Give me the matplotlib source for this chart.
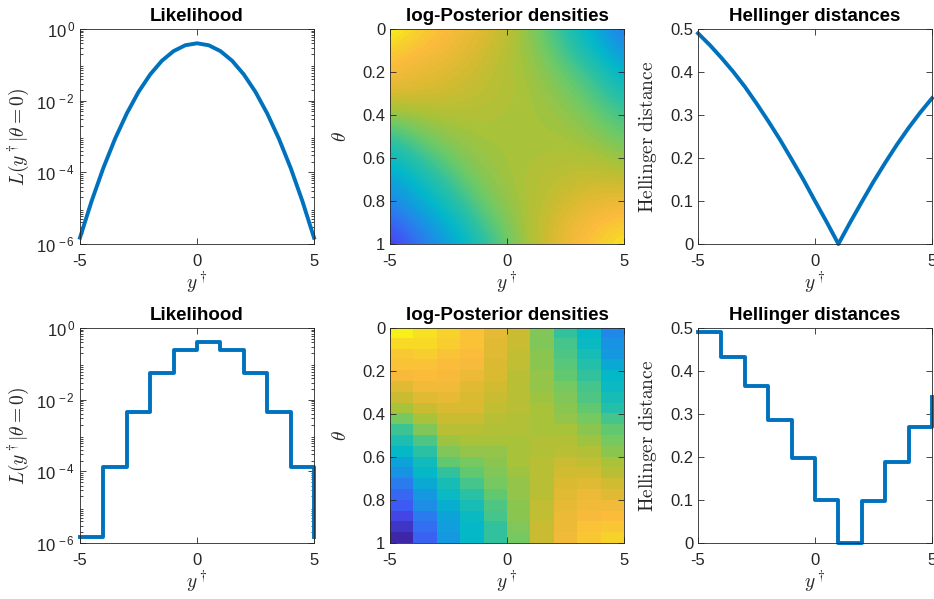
import numpy as np
import matplotlib
matplotlib.use("Agg")
import matplotlib.pyplot as plt
from matplotlib.colors import LinearSegmentedColormap
from matplotlib.ticker import LogLocator, NullFormatter

# continuous curves, read at y = -5, -4.5, ..., 5
y_fine = [-5, -4.5, -4, -3.5, -3, -2.5, -2, -1.5, -1, -0.5, 0,
          0.5, 1, 1.5, 2, 2.5, 3, 3.5, 4, 4.5, 5]
lik_fine = [1.5e-6, 1.6e-5, 1.34e-4, 8.7e-4, 4.4e-3, 1.75e-2, 5.4e-2, 0.13, 0.242, 0.352, 0.399,
            0.352, 0.242, 0.13, 5.4e-2, 1.75e-2, 4.4e-3, 8.7e-4, 1.34e-4, 1.6e-5, 1.5e-6]
hell_fine = [0.490, 0.463, 0.433, 0.401, 0.366, 0.327, 0.286, 0.243, 0.197, 0.150, 0.100,
             0.051, 0.0, 0.050, 0.098, 0.145, 0.189, 0.231, 0.270, 0.306, 0.339]

# binned (stairs) versions
y_bins = [-5, -4, -3, -2, -1, 0, 1, 2, 3, 4, 5]
lik_step = [1.5e-6, 1.34e-4, 4.4e-3, 5.4e-2, 0.242, 0.399, 0.242, 5.4e-2, 4.4e-3, 1.34e-4, 1.5e-6]
hell_step = [0.490, 0.433, 0.366, 0.286, 0.197, 0.100, 0.0, 0.098, 0.189, 0.270, 0.339]

# log-posterior (colour fraction), rows theta = 0, 0.1, ..., 1 ; cols y = -5..5
post_theta = [0, 0.1, 0.2, 0.3, 0.4, 0.5, 0.6, 0.7, 0.8, 0.9, 1.0]
post_y = [-5, -4, -3, -2, -1, 0, 1, 2, 3, 4, 5]
post_smooth = [
    [1.00, 0.93, 0.87, 0.82, 0.77, 0.71, 0.61, 0.51, 0.40, 0.30, 0.18],
    [0.90, 0.86, 0.83, 0.79, 0.74, 0.69, 0.63, 0.55, 0.45, 0.36, 0.26],
    [0.84, 0.80, 0.78, 0.75, 0.72, 0.68, 0.65, 0.59, 0.52, 0.44, 0.34],
    [0.76, 0.75, 0.74, 0.72, 0.70, 0.68, 0.66, 0.62, 0.57, 0.50, 0.42],
    [0.62, 0.65, 0.67, 0.68, 0.68, 0.67, 0.66, 0.65, 0.61, 0.56, 0.50],
    [0.48, 0.55, 0.61, 0.64, 0.66, 0.66, 0.66, 0.66, 0.65, 0.61, 0.56],
    [0.38, 0.45, 0.53, 0.60, 0.64, 0.66, 0.67, 0.68, 0.68, 0.67, 0.63],
    [0.30, 0.37, 0.45, 0.54, 0.61, 0.65, 0.68, 0.70, 0.72, 0.73, 0.71],
    [0.22, 0.30, 0.38, 0.47, 0.57, 0.63, 0.68, 0.72, 0.76, 0.79, 0.80],
    [0.13, 0.22, 0.31, 0.40, 0.51, 0.60, 0.68, 0.75, 0.81, 0.86, 0.88],
    [0.03, 0.14, 0.24, 0.34, 0.45, 0.56, 0.67, 0.76, 0.84, 0.90, 0.97],
]

# binned log-posterior, one list per y bin (-5..-4 first), 20 theta rows each
post_binned_cols = [
    [0.98, 0.93, 0.89, 0.86, 0.84, 0.78, 0.73, 0.66, 0.58, 0.49, 0.43, 0.37, 0.30, 0.25, 0.19, 0.15, 0.11, 0.07, 0.04, 0.01],
    [0.95, 0.93, 0.90, 0.87, 0.85, 0.82, 0.78, 0.72, 0.66, 0.60, 0.53, 0.46, 0.40, 0.37, 0.32, 0.28, 0.24, 0.20, 0.17, 0.14],
    [0.92, 0.90, 0.87, 0.85, 0.84, 0.82, 0.79, 0.76, 0.73, 0.69, 0.65, 0.60, 0.55, 0.48, 0.42, 0.38, 0.34, 0.31, 0.29, 0.27],
    [0.87, 0.86, 0.85, 0.84, 0.80, 0.78, 0.76, 0.75, 0.73, 0.70, 0.67, 0.63, 0.59, 0.55, 0.50, 0.46, 0.42, 0.39, 0.37, 0.36],
    [0.79, 0.78, 0.77, 0.76, 0.75, 0.74, 0.73, 0.71, 0.70, 0.68, 0.66, 0.64, 0.62, 0.60, 0.58, 0.56, 0.53, 0.50, 0.48, 0.47],
    [0.72, 0.72, 0.71, 0.71, 0.70, 0.70, 0.69, 0.69, 0.68, 0.68, 0.67, 0.67, 0.66, 0.65, 0.64, 0.63, 0.62, 0.61, 0.60, 0.58],
    [0.60, 0.60, 0.61, 0.62, 0.63, 0.64, 0.65, 0.66, 0.67, 0.67, 0.68, 0.68, 0.69, 0.69, 0.70, 0.70, 0.71, 0.71, 0.72, 0.72],
    [0.48, 0.50, 0.52, 0.54, 0.56, 0.58, 0.60, 0.62, 0.64, 0.66, 0.68, 0.70, 0.72, 0.74, 0.75, 0.77, 0.79, 0.80, 0.81, 0.82],
    [0.37, 0.39, 0.41, 0.44, 0.47, 0.50, 0.53, 0.56, 0.59, 0.62, 0.65, 0.68, 0.71, 0.74, 0.77, 0.80, 0.82, 0.84, 0.86, 0.88],
    [0.22, 0.25, 0.28, 0.32, 0.36, 0.38, 0.41, 0.45, 0.50, 0.55, 0.58, 0.62, 0.66, 0.70, 0.74, 0.78, 0.82, 0.85, 0.88, 0.92],
]

lik_ticks = [1e-6, 1e-4, 1e-2, 1]
lik_ticklabels = [r"$10^{\,-6}$", r"$10^{\,-4}$", r"$10^{\,-2}$", r"$10^{\,0}$"]
theta_ticks = [0, 0.2, 0.4, 0.6, 0.8, 1]
theta_ticklabels = ["0", "0.2", "0.4", "0.6", "0.8", "1"]
hell_ticks = [0, 0.1, 0.2, 0.3, 0.4, 0.5]
hell_ticklabels = ["0", "0.1", "0.2", "0.3", "0.4", "0.5"]
x_ticks = [-5, 0, 5]
x_ticklabels = ["-5", "0", "5"]

plt.rcParams["font.family"] = ["Liberation Sans", "DejaVu Sans"]
plt.rcParams["mathtext.fontset"] = "custom"
plt.rcParams["mathtext.rm"] = "Liberation Sans"
plt.rcParams["mathtext.it"] = "Liberation Sans:italic"

# parula-like colormap, 64 steps like matlab
parula_pts = [
    (0.00, (0.24, 0.15, 0.66)),
    (0.08, (0.27, 0.31, 0.96)),
    (0.18, (0.18, 0.47, 0.94)),
    (0.27, (0.08, 0.60, 0.88)),
    (0.36, (0.01, 0.72, 0.79)),
    (0.47, (0.18, 0.76, 0.63)),
    (0.57, (0.42, 0.79, 0.41)),
    (0.67, (0.67, 0.76, 0.22)),
    (0.76, (0.85, 0.73, 0.19)),
    (0.85, (0.99, 0.73, 0.24)),
    (0.93, (0.97, 0.84, 0.16)),
    (1.00, (0.976, 0.98, 0.08)),
]
parula = LinearSegmentedColormap.from_list("parula", parula_pts, N=64)

blue = (0, 0.447, 0.741)
grey = (0.15, 0.15, 0.15)

fig = plt.figure(figsize=(9.34, 5.99), dpi=100)
W, H = 934.0, 599.0
lefts = [80, 390, 698]
width = 234
tops = [29, 328]
height = 215


def make_ax(row, col):
    l = lefts[col] / W
    b = 1 - (tops[row] + height) / H
    ax = fig.add_axes([l, b, width / W, height / H])
    for s in ax.spines.values():
        s.set_color(grey)
        s.set_linewidth(0.6)
    ax.tick_params(which="both", direction="in", top=True, right=True,
                   colors=grey, labelsize=12, width=0.6)
    ax.tick_params(which="major", length=4)
    ax.tick_params(which="minor", length=2)
    ax.tick_params(axis="x", pad=7)
    ax.set_xlim(-5, 5)
    ax.set_xticks(x_ticks, x_ticklabels)
    ax.set_xlabel(r"$y^\dagger$", math_fontfamily="cm", fontsize=14, color=grey, labelpad=1)
    return ax


def likelihood_ax(ax, x, y, stairs):
    if stairs:
        ax.step(x, y, where="post", color=blue, lw=2.8, clip_on=False)
    else:
        ax.plot(x, y, color=blue, lw=2.8, clip_on=False)
    ax.set_yscale("log")
    ax.set_ylim(1e-6, 1)
    ax.set_yticks(lik_ticks, lik_ticklabels)
    ax.yaxis.set_minor_locator(LogLocator(base=10, subs=range(2, 10), numticks=20))
    ax.yaxis.set_minor_formatter(NullFormatter())
    ax.set_ylabel(r"$L(y^\dagger|\theta=0)$", math_fontfamily="cm", fontsize=14, color=grey, labelpad=3)
    ax.set_title("Likelihood", fontsize=13.5, fontweight="bold", pad=6)


def hellinger_ax(ax, x, y, stairs):
    if stairs:
        ax.step(x, y, where="post", color=blue, lw=2.8, clip_on=False)
    else:
        ax.plot(x, y, color=blue, lw=2.8, clip_on=False)
    ax.set_ylim(0, 0.5)
    ax.set_yticks(hell_ticks, hell_ticklabels)
    ax.set_ylabel(r"$\mathrm{Hellinger\ distance}$", math_fontfamily="cm", fontsize=14, color=grey, labelpad=8)
    ax.set_title("Hellinger distances", fontsize=13.5, fontweight="bold", pad=6)


def posterior_ax(ax, grid, extent, interp):
    ax.imshow(grid, cmap=parula, vmin=0, vmax=1, extent=extent, aspect="auto",
              interpolation=interp, interpolation_stage="data")
    ax.set_xlim(-5, 5)
    ax.set_ylim(1, 0)
    ax.set_yticks(theta_ticks, theta_ticklabels)
    ax.set_ylabel(r"$\theta$", math_fontfamily="cm", fontsize=14, color=grey, labelpad=9)
    ax.set_title("log-Posterior densities", fontsize=13.5, fontweight="bold", pad=6)


# top row: continuous data
ax = make_ax(0, 0)
likelihood_ax(ax, y_fine, lik_fine, False)

ax = make_ax(0, 1)
dy = (post_y[1] - post_y[0]) / 2
dt = (post_theta[1] - post_theta[0]) / 2
posterior_ax(ax, np.array(post_smooth),
             [post_y[0] - dy, post_y[-1] + dy, post_theta[-1] + dt, post_theta[0] - dt], "bicubic")

ax = make_ax(0, 2)
hellinger_ax(ax, y_fine, hell_fine, False)

# bottom row: binned data
ax = make_ax(1, 0)
likelihood_ax(ax, y_bins, lik_step, True)

ax = make_ax(1, 1)
posterior_ax(ax, np.array(post_binned_cols).T, [y_bins[0], y_bins[-1], 1, 0], "nearest")

ax = make_ax(1, 2)
hellinger_ax(ax, y_bins, hell_step, True)

fig.savefig("out.png", dpi=100)
